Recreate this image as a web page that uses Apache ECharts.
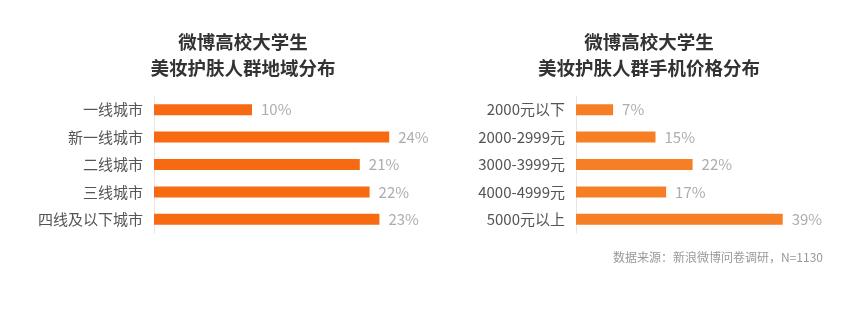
<!DOCTYPE html>
<html>
<head>
<meta charset="utf-8">
<script src="https://cdn.jsdelivr.net/npm/echarts@6/dist/echarts.min.js"></script>
<style>
  html, body { margin: 0; padding: 0; background: #fff; }
  #chart { width: 865px; height: 313px; }
</style>
</head>
<body>
<div id="chart"></div>
<script>
// 地域分布
const regionCats = ['一线城市', '新一线城市', '二线城市', '三线城市', '四线及以下城市'];
const regionVals = [10, 24, 21, 22, 23];
// 手机价格分布
const priceCats = ['2000元以下', '2000-2999元', '3000-3999元', '4000-4999元', '5000元以上'];
const priceVals = [7, 15, 22, 17, 39];

const titleLeft = '微博高校大学生\n美妆护肤人群地域分布';
const titleRight = '微博高校大学生\n美妆护肤人群手机价格分布';
const sourceText = '数据来源：新浪微博问卷调研，N=1130';

const font = '"Noto Sans CJK SC", "Noto Sans", sans-serif';

const chart = echarts.init(document.getElementById('chart'));

function catAxis(idx, data) {
  return {
    type: 'category',
    gridIndex: idx,
    data: data,
    inverse: true,
    axisLine: { show: true, lineStyle: { color: '#e6e6e6', width: 1 } },
    axisTick: { show: false },
    axisLabel: { color: '#555', fontSize: 15, margin: 11, fontFamily: font }
  };
}

function valAxis(idx, max) {
  return {
    type: 'value',
    gridIndex: idx,
    min: 0,
    max: max,
    show: false,
    splitLine: { show: false }
  };
}

function barSeries(idx, data, color) {
  return {
    type: 'bar',
    xAxisIndex: idx,
    yAxisIndex: idx,
    data: data,
    barWidth: 11,
    itemStyle: { color: color },
    label: {
      show: true,
      position: 'right',
      distance: 9,
      formatter: '{c}%',
      color: '#adadad',
      fontSize: 15,
      fontFamily: font
    }
  };
}

const option = {
  animation: false,
  title: [
    {
      text: titleLeft,
      left: 238,
      top: 24,
      textAlign: 'center',
      textStyle: { fontSize: 18.5, fontWeight: 'bold', color: '#333', lineHeight: 26, fontFamily: font }
    },
    {
      text: titleRight,
      left: 644,
      top: 24,
      textAlign: 'center',
      textStyle: { fontSize: 18.5, fontWeight: 'bold', color: '#333', lineHeight: 26, fontFamily: font }
    },
    {
      text: sourceText,
      right: 37,
      top: 246,
      textStyle: { fontSize: 12, fontWeight: 'normal', color: '#999', fontFamily: font }
    }
  ],
  grid: [
    { left: 154, top: 96, width: 294, height: 137 },
    { left: 576, top: 96, width: 212, height: 137 }
  ],
  xAxis: [valAxis(0, 30), valAxis(1, 40)],
  yAxis: [catAxis(0, regionCats), catAxis(1, priceCats)],
  series: [
    barSeries(0, regionVals, '#f86a12'),
    barSeries(1, priceVals, '#f67e25')
  ]
};

chart.setOption(option);
</script>
</body>
</html>
